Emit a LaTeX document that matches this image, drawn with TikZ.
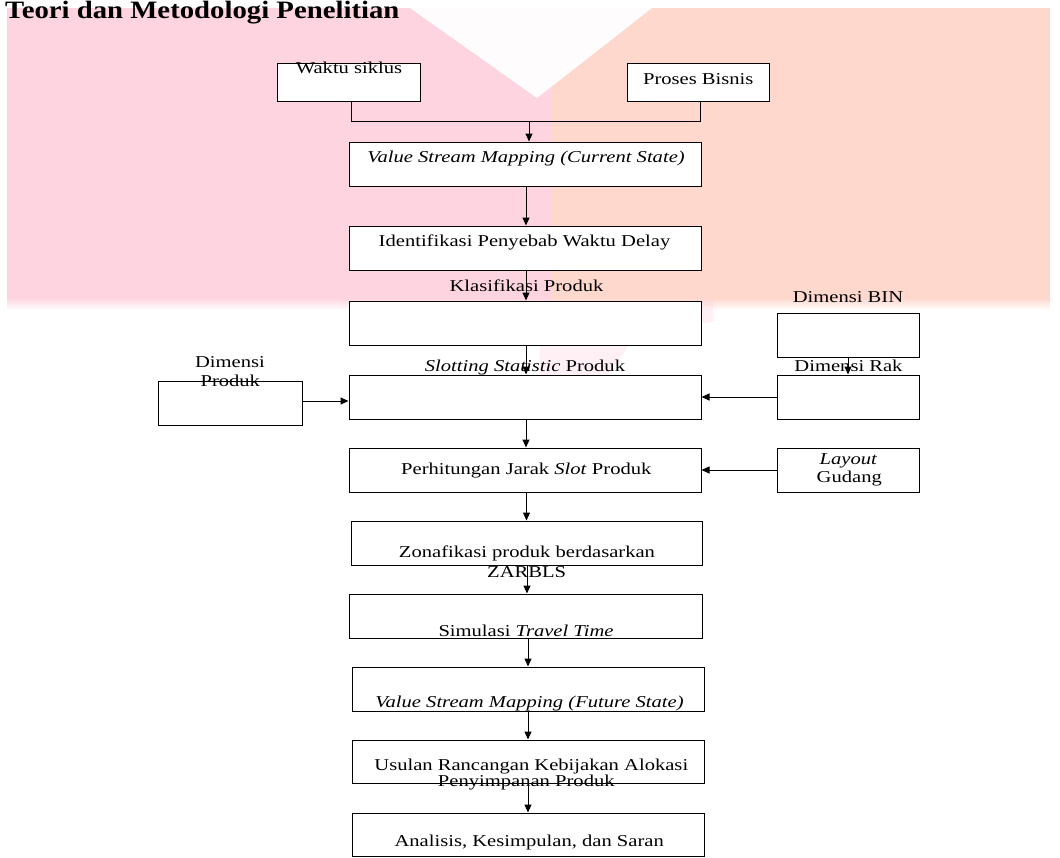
\documentclass[tikz,border=0pt]{standalone}
\usepackage{fontspec}
\setmainfont{Liberation Serif}[FakeStretch=1.24]
\newfontfamily\titlefont{Liberation Serif}[FakeStretch=1.15]
\usetikzlibrary{arrows.meta}
\definecolor{pinkbg}{RGB}{253,212,224}
\definecolor{peachbg}{RGB}{254,215,205}
\begin{document}
\begin{tikzpicture}[x=1pt,y=-1pt,
  font=\fontsize{16.6}{19}\selectfont,
  box/.style={draw, fill=white, line width=1pt, inner sep=0pt},
  txt/.style={inner sep=0pt, anchor=base},
  conn/.style={line width=1pt},
  arr/.style={line width=1pt, -{Triangle[length=8pt,width=7pt]}}]
\useasboundingbox (0,0) rectangle (1060,857);
% background watermark
\fill[pinkbg] (7,8) rectangle (551,298);
\fill[peachbg] (551,8) rectangle (1050,298);
\shade[top color=pinkbg, bottom color=white] (7,298) rectangle (551,310);
\shade[top color=peachbg, bottom color=white] (551,298) rectangle (1050,310);
\fill[white, opacity=0.95] (410,8) -- (652,8) -- (537,98) -- cycle;
\fill[pinkbg, opacity=0.35] (540,300) -- (713,300) -- (713,322) -- (640,330) -- (575,420) -- (548,420) -- (540,380) -- cycle;
% title
\node[anchor=base west, inner sep=0pt, font={\titlefont\bfseries\fontsize{25}{28}\selectfont}] (title) at (5,18.3) {Teori dan Metodologi Penelitian};
% boxes
\node[box, minimum width=143, minimum height=38] (waktu) at (348.5,82) {};
\node[box, minimum width=142, minimum height=38] (proses) at (698,82) {};
\node[box, minimum width=352, minimum height=44] (vsmc) at (525,164) {};
\node[box, minimum width=352, minimum height=44] (ident) at (525,248) {};
\node[box, minimum width=352, minimum height=44] (klas) at (525,323) {};
\node[box, minimum width=142, minimum height=44] (bin) at (848,335) {};
\node[box, minimum width=352, minimum height=44] (slot) at (525,397) {};
\node[box, minimum width=142, minimum height=44] (rak) at (848,397) {};
\node[box, minimum width=144, minimum height=44] (dprod) at (230,403) {};
\node[box, minimum width=352, minimum height=44] (jarak) at (525,470) {};
\node[box, minimum width=142, minimum height=44] (layout) at (848,470) {};
\node[box, minimum width=351, minimum height=44] (zona) at (526.5,543) {};
\node[box, minimum width=353, minimum height=44] (sim) at (525.5,616) {};
\node[box, minimum width=352, minimum height=44] (vsmf) at (528,689) {};
\node[box, minimum width=352, minimum height=43] (usulan) at (528,761.5) {};
\node[box, minimum width=352, minimum height=43] (analisis) at (528,834.5) {};
% texts
\node[txt] (twaktu) at (349,73.3) {Waktu siklus};
\node[txt] (tproses) at (698.3,84.3) {Proses Bisnis};
\node[txt] (tvsmc) at (526,162.7) {\textit{Value Stream Mapping (Current State)}};
\node[txt] (tident) at (524.5,246) {Identifikasi Penyebab Waktu Delay};
\node[txt] (tklas) at (526.5,291) {Klasifikasi Produk};
\node[txt] (tbin) at (848,302.3) {Dimensi BIN};
\node[txt] (tslot) at (525,371) {\textit{Slotting Statistic} Produk};
\node[txt] (trak) at (848.5,371.3) {Dimensi Rak};
\node[txt] (tdp1) at (230,367.3) {Dimensi};
\node[txt] (tdp2) at (230.3,386) {Produk};
\node[txt] (tjarak) at (526.3,474.3) {Perhitungan Jarak \textit{Slot} Produk};
\node[txt] (tlay1) at (848.5,464) {\textit{Layout}};
\node[txt] (tlay2) at (849.3,482) {Gudang};
\node[txt] (tzona1) at (527,557.3) {Zonafikasi produk berdasarkan};
\node[txt] (tzona2) at (526.7,577.3) {ZARBLS};
\node[txt] (tsim) at (526,636) {Simulasi \textit{Travel Time}};
\node[txt] (tvsmf) at (529.5,707.3) {\textit{Value Stream Mapping (Future State)}};
\node[txt] (tus1) at (531.3,770.7) {Usulan Rancangan Kebijakan Alokasi};
\node[txt] (tus2) at (526.3,786.7) {Penyimpanan Produk};
\node[txt] (tana) at (529.2,846) {Analisis, Kesimpulan, dan Saran};
% connectors
\coordinate (join) at (529,121);
\draw[conn] ([xshift=2.5pt]waktu.south) |- (join);
\draw[conn] ([xshift=2pt]proses.south) |- (join);
\draw[arr] (join) -- (join |- vsmc.north);
\draw[arr] ([xshift=1pt]vsmc.south) -- ([xshift=1pt]ident.north);
\draw[arr] ([xshift=1pt]ident.south) -- ([xshift=1pt]klas.north);
\draw[arr] ([xshift=1pt]klas.south) -- ([xshift=1pt]slot.north);
\draw[arr] ([xshift=1pt]slot.south) -- ([xshift=1pt]jarak.north);
\draw[arr] (zona.north |- jarak.south) -- (zona.north);
\draw[arr] ([xshift=0.5pt]zona.south) -- ([xshift=0.5pt]zona.south |- sim.north);
\draw[arr] (vsmf.north |- sim.south) -- (vsmf.north);
\draw[arr] (vsmf.south) -- (usulan.north);
\draw[arr] (usulan.south) -- (analisis.north);
\draw[arr] ([yshift=2pt]dprod.east) -- ([yshift=2pt]dprod.east -| slot.west);
\draw[arr] (rak.west) -- (rak.west -| slot.east);
\draw[arr] (layout.west) -- (layout.west -| jarak.east);
\draw[arr] (bin.south) -- (rak.north);
\end{tikzpicture}
\end{document}
